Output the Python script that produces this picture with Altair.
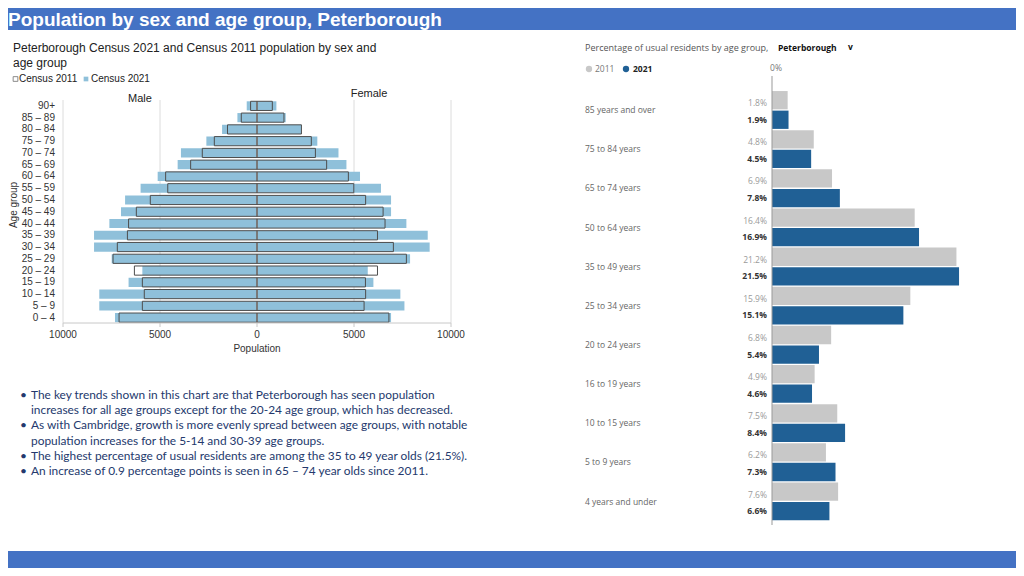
import altair as alt
import pandas as pd

W, H = 1008, 560

# ---------------- data ----------------
ages = ["90+", "85 – 89", "80 – 84", "75 – 79", "70 – 74", "65 – 69", "60 – 64",
        "55 – 59", "50 – 54", "45 – 49", "40 – 44", "35 – 39", "30 – 34", "25 – 29",
        "20 – 24", "15 – 19", "10 – 14", "5 – 9", "0 – 4"]
male_2021 = [530, 1010, 1800, 2610, 3920, 4090, 5120, 6000, 6800, 7010, 7610, 8400,
             8400, 7490, 5910, 6620, 8130, 8130, 7320]
male_2011 = [330, 810, 1520, 2200, 2820, 3420, 4710, 4600, 5500, 6220, 6620, 6680,
             7200, 7420, 6320, 5910, 5810, 5910, 7110]
female_2021 = [1000, 1480, 2290, 3110, 4200, 4610, 5310, 6390, 6910, 6910, 7700, 8800,
               8900, 7890, 5710, 6000, 7390, 7600, 6910]
female_2011 = [790, 1390, 2290, 2800, 3010, 3590, 4710, 4990, 5600, 6500, 6600, 6210,
               7030, 7700, 6210, 5590, 5600, 5520, 6800]

tick_values = [-10000, -5000, 0, 5000, 10000]
tick_labels = ["10000", "5000", "0", "5000", "10000"]

pct_categories = ["85 years and over", "75 to 84 years", "65 to 74 years", "50 to 64 years",
                  "35 to 49 years", "25 to 34 years", "20 to 24 years", "16 to 19 years",
                  "10 to 15 years", "5 to 9 years", "4 years and under"]
pct_2011 = [1.8, 4.8, 6.9, 16.4, 21.2, 15.9, 6.8, 4.9, 7.5, 6.2, 7.6]
pct_2021 = [1.9, 4.5, 7.8, 16.9, 21.5, 15.1, 5.4, 4.6, 8.4, 7.3, 6.6]

bullet_lines = [
    "The key trends shown in this chart are that Peterborough has seen population",
    "increases for all age groups except for the 20-24 age group, which has decreased.",
    "As with Cambridge, growth is more evenly spread between age groups, with notable",
    "population increases for the 5-14 and 30-39 age groups.",
    "The highest percentage of usual residents are among the 35 to 49 year olds (21.5%).",
    "An increase of 0.9 percentage points is seen in 65 – 74 year olds since 2011.",
]
bullet_flags = [True, False, True, False, True, True]

# ---------------- tables ----------------
pyr_rows = []
for i, a in enumerate(ages):
    pyr_rows.append({"age": a, "sex": "Male", "v21": -male_2021[i], "v11": -male_2011[i]})
    pyr_rows.append({"age": a, "sex": "Female", "v21": female_2021[i], "v11": female_2011[i]})
pyr = pd.DataFrame(pyr_rows)
ticks = pd.DataFrame({"v": tick_values, "lab": tick_labels})
grid = pd.DataFrame({"v": [-10000, -5000, 5000, 10000]})
agedf = pd.DataFrame({"age": ages})

keys = []
pct_rows = []
for i, c in enumerate(pct_categories):
    for yr, val in (("2011", pct_2011[i]), ("2021", pct_2021[i])):
        k = f"{c}|{yr}"
        keys.append(k)
        pct_rows.append({"key": k, "cat": c, "year": yr, "pct": val, "lab": f"{val:.1f}%"})
pct = pd.DataFrame(pct_rows)

bul = pd.DataFrame({"i": list(range(len(bullet_lines))), "t": bullet_lines, "b": bullet_flags})

# ---------------- scales ----------------
PX = alt.Scale(domain=[-10000, 10000], range=[55, 443])
PY = alt.Scale(domain=ages, range=[92, 315.5], paddingInner=0.22, paddingOuter=0.11)
RX = alt.Scale(domain=[0, 25], range=[764, 981.5])
RY = alt.Scale(domain=keys, range=[82.4, 512.9], paddingInner=0.065, paddingOuter=0.0325)
BY = alt.Scale(domain=[0, 5], range=[387, 463])

ARIAL = "Liberation Sans"
OPEN = "Open Sans"

one = pd.DataFrame({"t": [""]})


def label(text, x, y, size=10, color="#222", font=ARIAL, weight="normal", align="left",
          angle=0, baseline="middle"):
    kw = dict(fontSize=size, color=color, font=font, fontWeight=weight, align=align,
              baseline=baseline)
    if angle:
        kw["angle"] = angle
    return alt.Chart(pd.DataFrame({"t": [text]})).mark_text(**kw).encode(
        x=alt.value(x), y=alt.value(y), text="t:N")


layers = []

# header and footer bands
layers.append(alt.Chart(one).mark_rect(color="#4472C4").encode(
    x=alt.value(0), x2=alt.value(W), y=alt.value(0), y2=alt.value(22)))
layers.append(label("Population by sex and age group, Peterborough", 0, 11.5, size=19,
                    color="white", weight="bold"))
layers.append(alt.Chart(one).mark_rect(color="#4472C4").encode(
    x=alt.value(0), x2=alt.value(W), y=alt.value(543), y2=alt.value(H)))

# ---------------- pyramid ----------------
layers.append(label("Peterborough Census 2021 and Census 2011 population by sex and", 5, 40,
                    size=12))
layers.append(label("age group", 5, 55, size=12))
layers.append(alt.Chart(one).mark_point(shape="square", filled=False, color="#333",
                                         size=22, strokeWidth=0.8).encode(
    x=alt.value(7.5), y=alt.value(71)))
layers.append(label("Census 2011", 11, 71, size=10))
layers.append(alt.Chart(one).mark_point(shape="square", filled=True, color="#8fc0da",
                                         size=22, opacity=1).encode(
    x=alt.value(78), y=alt.value(71)))
layers.append(label("Census 2021", 83, 71, size=10))
layers.append(label("Male", 132, 91, size=11, align="center"))
layers.append(label("Female", 361, 86, size=11, align="center"))

layers.append(alt.Chart(grid).mark_rule(color="#dcdcdc", strokeWidth=1).encode(
    x=alt.X("v:Q", scale=PX, axis=None), y=alt.value(92), y2=alt.value(315)))
layers.append(alt.Chart(pyr).mark_bar(color="#8fc0da").encode(
    x=alt.X("v21:Q", scale=PX, axis=None),
    y=alt.Y("age:N", scale=PY, axis=None)))
layers.append(alt.Chart(pd.DataFrame({"v": [0]})).mark_rule(color="white", strokeWidth=2).encode(
    x=alt.X("v:Q", scale=PX, axis=None), y=alt.value(92), y2=alt.value(315)))
layers.append(alt.Chart(pyr).mark_bar(fillOpacity=0, stroke="#4d4d4d", strokeWidth=1).encode(
    x=alt.X("v11:Q", scale=PX, axis=None),
    y=alt.Y("age:N", scale=PY, axis=None)))
# x axis
layers.append(alt.Chart(one).mark_rule(color="#c8c8c8").encode(
    x=alt.value(55), x2=alt.value(443), y=alt.value(315)))
layers.append(alt.Chart(ticks).mark_rule(color="#c8c8c8").encode(
    x=alt.X("v:Q", scale=PX, axis=None), y=alt.value(315), y2=alt.value(319)))
layers.append(alt.Chart(ticks).mark_text(font=ARIAL, fontSize=10, color="#333",
                                         baseline="middle").encode(
    x=alt.X("v:Q", scale=PX, axis=None), y=alt.value(327), text="lab:N"))
layers.append(label("Population", 249, 341, size=10, color="#333", align="center"))
# y axis labels
layers.append(alt.Chart(agedf).mark_text(font=ARIAL, fontSize=10, color="#333", align="right",
                                         baseline="middle").encode(
    x=alt.value(47), y=alt.Y("age:N", scale=PY, axis=None), text="age:N"))
layers.append(label("Age group", 6, 197, size=10, color="#333", align="center", angle=270))

# ---------------- bullets ----------------
layers.append(alt.Chart(bul).transform_filter("datum.b").mark_text(
    font="Lato", fontSize=12, color="#24396d", align="left", baseline="middle").encode(
    x=alt.value(12), y=alt.Y("i:Q", scale=BY, axis=None), text=alt.value("•")))
layers.append(alt.Chart(bul).mark_text(
    font="Lato", fontSize=11.9, color="#24396d", align="left", baseline="middle").encode(
    x=alt.value(23), y=alt.Y("i:Q", scale=BY, axis=None), text="t:N"))

# ---------------- right chart ----------------
layers.append(label("Percentage of usual residents by age group,", 577, 40, size=9,
                    color="#555", font=OPEN))
layers.append(label("Peterborough", 770, 40, size=8.5, color="#111", font=OPEN, weight="bold"))
layers.append(label("v", 840, 39, size=8.5, color="#111", font=OPEN, weight="bold"))
layers.append(alt.Chart(one).mark_point(filled=True, color="#c8c8c8", size=40, opacity=1).encode(
    x=alt.value(581), y=alt.value(61)))
layers.append(label("2011", 587, 61, size=8.5, color="#777", font=OPEN))
layers.append(alt.Chart(one).mark_point(filled=True, color="#206095", size=40, opacity=1).encode(
    x=alt.value(618), y=alt.value(61)))
layers.append(label("2021", 625, 61, size=8.5, color="#222", font=OPEN, weight="bold"))

layers.append(alt.Chart(pct).mark_bar().encode(
    x=alt.X("pct:Q", scale=RX, axis=None),
    y=alt.Y("key:N", scale=RY, axis=None),
    color=alt.Color("year:N", scale=alt.Scale(domain=["2011", "2021"],
                                              range=["#c8c8c8", "#206095"]), legend=None)))
layers.append(alt.Chart(pd.DataFrame({"v": [0]})).mark_rule(color="#999").encode(
    x=alt.X("v:Q", scale=RX, axis=None), y=alt.value(68), y2=alt.value(517)))
layers.append(label("0%", 768, 60, size=8.5, color="#777", font=OPEN, align="center"))
layers.append(alt.Chart(pct).transform_filter("datum.year == '2011'").mark_text(
    font=OPEN, fontSize=8.5, color="#9a9a9a", align="right", baseline="middle", dy=3).encode(
    x=alt.value(759), y=alt.Y("key:N", scale=RY, axis=None), text="lab:N"))
layers.append(alt.Chart(pct).transform_filter("datum.year == '2021'").mark_text(
    font=OPEN, fontSize=8.5, color="#333", fontWeight="bold", align="right",
    baseline="middle").encode(
    x=alt.value(759), y=alt.Y("key:N", scale=RY, axis=None), text="lab:N"))
layers.append(alt.Chart(pct).transform_filter("datum.year == '2011'").mark_text(
    font=OPEN, fontSize=8.5, color="#666", align="left", baseline="middle", dy=10).encode(
    x=alt.value(577), y=alt.Y("key:N", scale=RY, axis=None), text="cat:N"))

chart = alt.layer(*layers).resolve_scale(
    x="independent", y="independent", color="independent"
).properties(
    width=W, height=H, autosize=alt.AutoSizeParams(type="none"), padding=0
).configure_view(stroke=None)

chart.save("out.html", embed_options={"renderer": "svg", "actions": False})
